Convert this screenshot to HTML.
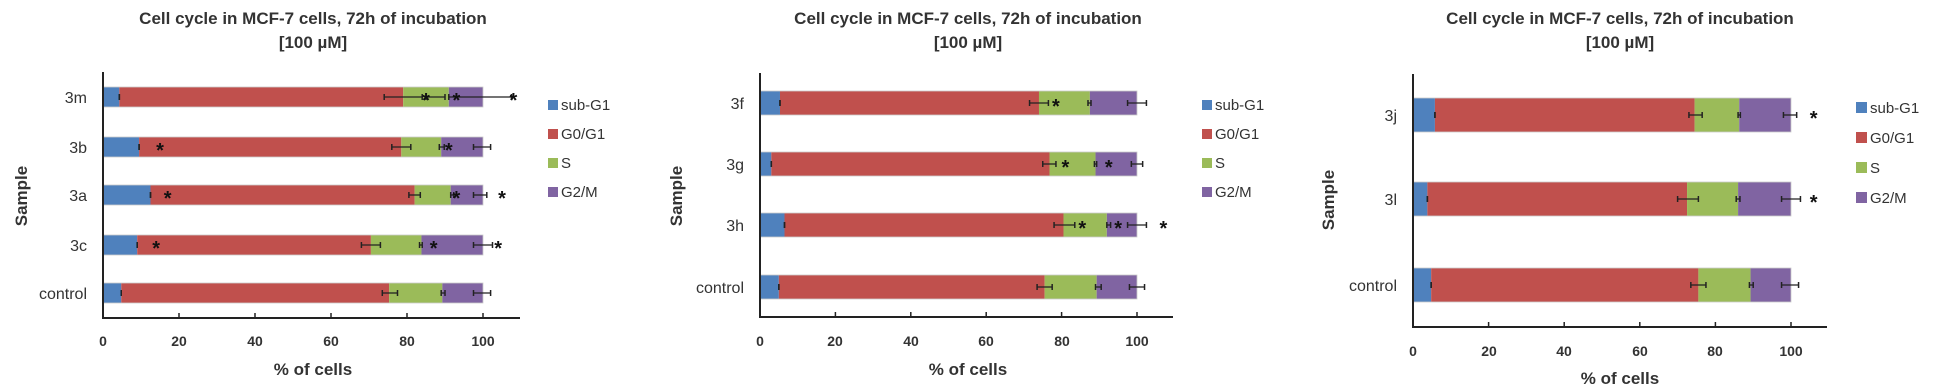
<!DOCTYPE html>
<html><head><meta charset="utf-8"><style>
html,body{margin:0;padding:0;background:#fff;}
svg{display:block;font-family:"Liberation Sans",sans-serif;}
.t{font-weight:bold;font-size:17px;fill:#333;text-anchor:middle;}
.yl{font-size:16px;fill:#333;text-anchor:end;}
.xl{font-size:14px;fill:#333;text-anchor:middle;font-weight:bold;}
.ax{font-weight:bold;font-size:17px;fill:#333;text-anchor:middle;}
.lg{font-size:15px;fill:#333;}
.ast{font-weight:bold;font-size:20px;fill:#111;text-anchor:middle;}
</style></head><body>
<svg id="s" width="1937" height="392" viewBox="0 0 1937 392" xmlns="http://www.w3.org/2000/svg">
<g id="bars"></g>
<!-- Panel 1 -->
<text class="t" x="313" y="24">Cell cycle in MCF-7 cells, 72h of incubation</text>
<text class="t" x="313" y="48">[100 µM]</text>
<text class="yl" x="87" y="103">3m</text>
<text class="yl" x="87" y="153">3b</text>
<text class="yl" x="87" y="201">3a</text>
<text class="yl" x="87" y="251">3c</text>
<text class="yl" x="87" y="299">control</text>
<text class="ax" transform="translate(21,196) rotate(-90)" dy="6">Sample</text>
<text class="xl" x="103" y="346">0</text><text class="xl" x="179" y="346">20</text><text class="xl" x="255" y="346">40</text><text class="xl" x="331" y="346">60</text><text class="xl" x="407" y="346">80</text><text class="xl" x="483" y="346">100</text>
<text class="ax" x="313" y="375">% of cells</text>
<rect x="548" y="100" width="10" height="10" fill="#4f81bd"/><text class="lg" x="561" y="110">sub-G1</text>
<rect x="548" y="129" width="10" height="10" fill="#c0504d"/><text class="lg" x="561" y="139">G0/G1</text>
<rect x="548" y="158" width="10" height="10" fill="#9bbb59"/><text class="lg" x="561" y="168">S</text>
<rect x="548" y="187" width="10" height="10" fill="#8064a2"/><text class="lg" x="561" y="197">G2/M</text>
<!-- Panel 2 -->
<text class="t" x="968" y="24">Cell cycle in MCF-7 cells, 72h of incubation</text>
<text class="t" x="968" y="48">[100 µM]</text>
<text class="yl" x="744" y="109">3f</text>
<text class="yl" x="744" y="170">3g</text>
<text class="yl" x="744" y="231">3h</text>
<text class="yl" x="744" y="293">control</text>
<text class="ax" transform="translate(676,196) rotate(-90)" dy="6">Sample</text>
<text class="xl" x="760" y="346">0</text><text class="xl" x="835" y="346">20</text><text class="xl" x="911" y="346">40</text><text class="xl" x="986" y="346">60</text><text class="xl" x="1062" y="346">80</text><text class="xl" x="1137" y="346">100</text>
<text class="ax" x="968" y="375">% of cells</text>
<rect x="1202" y="100" width="10" height="10" fill="#4f81bd"/><text class="lg" x="1215" y="110">sub-G1</text>
<rect x="1202" y="129" width="10" height="10" fill="#c0504d"/><text class="lg" x="1215" y="139">G0/G1</text>
<rect x="1202" y="158" width="10" height="10" fill="#9bbb59"/><text class="lg" x="1215" y="168">S</text>
<rect x="1202" y="187" width="10" height="10" fill="#8064a2"/><text class="lg" x="1215" y="197">G2/M</text>
<!-- Panel 3 -->
<text class="t" x="1620" y="24">Cell cycle in MCF-7 cells, 72h of incubation</text>
<text class="t" x="1620" y="48">[100 µM]</text>
<text class="yl" x="1397" y="121">3j</text>
<text class="yl" x="1397" y="205">3l</text>
<text class="yl" x="1397" y="291">control</text>
<text class="ax" transform="translate(1328,200) rotate(-90)" dy="6">Sample</text>
<text class="xl" x="1413" y="356">0</text><text class="xl" x="1489" y="356">20</text><text class="xl" x="1564" y="356">40</text><text class="xl" x="1640" y="356">60</text><text class="xl" x="1715" y="356">80</text><text class="xl" x="1791" y="356">100</text>
<text class="ax" x="1620" y="384">% of cells</text>
<rect x="1856" y="102" width="11" height="11" fill="#4f81bd"/><text class="lg" x="1870" y="113">sub-G1</text>
<rect x="1856" y="132" width="11" height="11" fill="#c0504d"/><text class="lg" x="1870" y="143">G0/G1</text>
<rect x="1856" y="162" width="11" height="11" fill="#9bbb59"/><text class="lg" x="1870" y="173">S</text>
<rect x="1856" y="192" width="11" height="11" fill="#8064a2"/><text class="lg" x="1870" y="203">G2/M</text>
<g id="ast"></g>
</svg>
<script>
var NS="http://www.w3.org/2000/svg",g=document.getElementById("bars"),ga=document.getElementById("ast");
function el(p,n,a){var e=document.createElementNS(NS,n);for(var k in a)e.setAttribute(k,a[k]);p.appendChild(e);return e;}
var C=["#4f81bd","#c0504d","#9bbb59","#8064a2"];
var P=[
 {x0:103,s:3.8,top:72,ay:318,aend:520,h:20,rows:[
  [97,[4.3,79,91],[[4.3,4.3],[74,84],[85,90],[91,107.5]],[85,93,108]],
  [147,[9.5,78.5,89],[[9.5,9.5],[76,81],[88.5,89.8],[97.5,102]],[15,91]],
  [195,[12.5,82,91.5],[[12.5,12.5],[80.5,83.5],[91.5,92.3],[97.5,101]],[17,93,105]],
  [245,[9,70.5,83.8],[[9,9],[68,73],[83.3,84],[97.5,102.5]],[14,87,104]],
  [293,[4.8,75.3,89.3],[[4.8,4.8],[73.5,77.5],[89,90],[97.5,102]],[]]]},
 {x0:760,s:3.77,top:73,ay:317,aend:1173,h:24,rows:[
  [103,[5.3,74,87.5],[[5.3,5.3],[71.5,76.5],[87,87.8],[97.5,102.5]],[78.5]],
  [164,[3,76.8,89],[[3,3],[75,78.5],[88.7,89.3],[98.5,101.5]],[81,92.5]],
  [225,[6.5,80.5,92],[[6.5,6.5],[78,83.5],[92,93],[97.5,102.5]],[85.5,95,107]],
  [287,[5,75.5,89.3],[[5,5],[73.5,77.5],[89,90.5],[98,102]],[]]]},
 {x0:1413,s:3.78,top:74,ay:327,aend:1827,h:34,rows:[
  [115,[5.8,74.5,86.3],[[5.8,5.8],[73,76.5],[86,86.6],[98,101.5]],[106]],
  [199,[3.8,72.5,86],[[3.8,3.8],[70,75.5],[85.5,86.5],[97.5,102.5]],[106]],
  [285,[4.8,75.5,89.3],[[4.8,4.8],[73.5,77.5],[89,90],[97.5,102]],[]]]}
];
P.forEach(function(p){
 p.rows.forEach(function(r){
  var y=r[0],b=[0].concat(r[1]).concat([100]),t=y-p.h/2;
  for(var i=0;i<4;i++){el(g,"rect",{x:p.x0+b[i]*p.s,y:t,width:(b[i+1]-b[i])*p.s,height:p.h,fill:C[i]});}
  el(g,"rect",{x:p.x0,y:t,width:100*p.s,height:p.h,fill:"none",stroke:"#ccc","stroke-width":0.8});
  r[2].forEach(function(e){var a=p.x0+e[0]*p.s,c=p.x0+e[1]*p.s;
   el(g,"line",{x1:a,x2:c,y1:y,y2:y,stroke:"#222","stroke-width":1.3});
   el(g,"line",{x1:a,x2:a,y1:y-3,y2:y+3,stroke:"#222","stroke-width":1.5});
   el(g,"line",{x1:c,x2:c,y1:y-3,y2:y+3,stroke:"#222","stroke-width":1.5});});
  r[3].forEach(function(v){var t2=el(ga,"text",{x:p.x0+v*p.s,y:y+10,"class":"ast"});t2.textContent="*";});
 });
 el(g,"line",{x1:p.x0,x2:p.x0,y1:p.top,y2:p.ay+1,stroke:"#222","stroke-width":2});
 el(g,"line",{x1:p.x0-1,x2:p.aend,y1:p.ay,y2:p.ay,stroke:"#222","stroke-width":2});
 for(var k=1;k<=5;k++){var x=p.x0+k*20*p.s;el(g,"line",{x1:x,x2:x,y1:p.ay-5,y2:p.ay,stroke:"#222","stroke-width":1.5});}
});
</script>
</body></html>
